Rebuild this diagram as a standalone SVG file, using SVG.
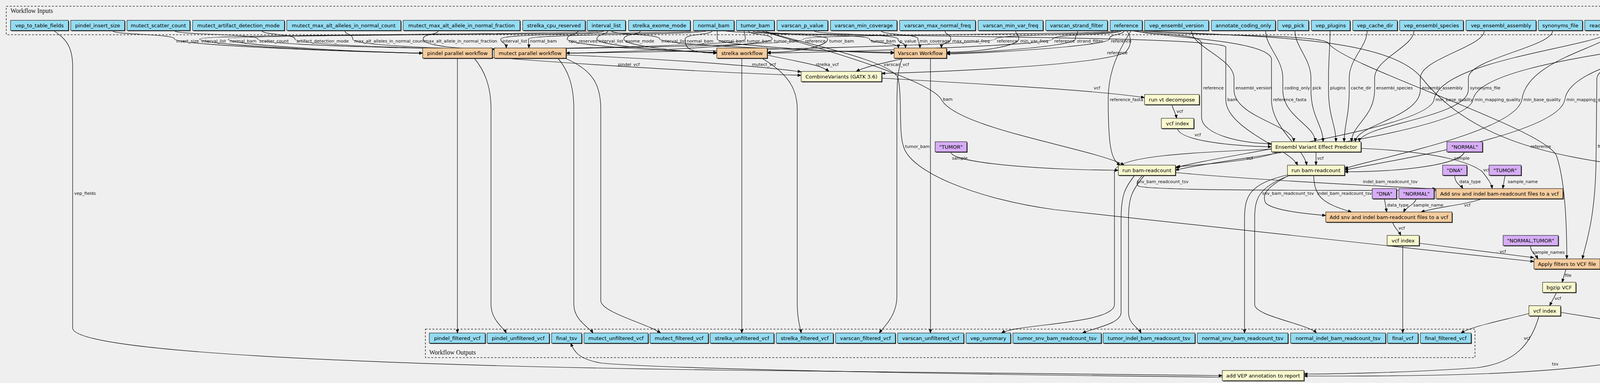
<svg xmlns="http://www.w3.org/2000/svg" width="5711" height="981" viewBox="0 0 5711 981">
<style>
.bg{fill:#efefef}
.cl{fill:none;stroke:#333;stroke-width:1.6;stroke-dasharray:5,4}
.ct{font-family:"Liberation Serif",serif;font-size:16px;fill:#111}
.sh{fill:#3a3a3a}
.n{stroke:#000;stroke-width:1}
.io{fill:#94dcf2}
.op{fill:#f5cc9e}
.tl{fill:#fafad0}
.cs{fill:#d6adf6}
.nt{font-family:"DejaVu Sans",sans-serif;font-size:13px;fill:#000;text-anchor:middle}
.e{fill:none;stroke:#000;stroke-width:1.2}
.el{font-family:"DejaVu Sans",sans-serif;font-size:11px;fill:#111}
</style>
<defs>
<marker id="ah" markerWidth="10" markerHeight="8" refX="9" refY="4" orient="auto" markerUnits="userSpaceOnUse"><path d="M0,0 L10,4 L0,8 z" fill="#000"/></marker>
</defs>
<rect class="bg" x="0" y="0" width="5711" height="981"/>
<g id="clusters">
<rect class="cl" x="16" y="16" width="5687" height="73"/>
<text class="ct" x="27" y="33">Workflow Inputs</text>
<rect class="cl" x="1089" y="843" width="2687" height="73"/>
<text class="ct" x="1099" y="908">Workflow Outputs</text>
</g>
<g id="connectors">
<path class="e" marker-end="url(#ah)" d="M287,78 C287,90 447,86 447,100 C447,118 1002,136 1082,136"/>
<path class="e" marker-end="url(#ah)" d="M1540,78 C1540,90 511,86 511,100 C511,118 1002,136 1082,136"/>
<path class="e" marker-end="url(#ah)" d="M1800,78 C1800,90 584,86 584,100 C584,118 1002,136 1082,136"/>
<path class="e" marker-end="url(#ah)" d="M1905,78 C1905,90 1908,86 1908,100 C1908,118 1340,126 1260,126"/>
<path class="e" marker-end="url(#ah)" d="M2860,78 C2860,90 2057,86 2057,100 C2057,118 1340,126 1260,126"/>
<path class="e" marker-end="url(#ah)" d="M445,78 C445,90 660,86 660,100 C660,118 1185,126 1265,126"/>
<path class="e" marker-end="url(#ah)" d="M670,78 C670,90 755,86 755,100 C755,118 1185,126 1265,126"/>
<path class="e" marker-end="url(#ah)" d="M883,78 C883,90 903,86 903,100 C903,118 1185,126 1265,126"/>
<path class="e" marker-end="url(#ah)" d="M1122,78 C1122,90 1083,86 1083,100 C1083,118 1185,126 1265,126"/>
<path class="e" marker-end="url(#ah)" d="M1548,78 C1548,90 1282,86 1282,100 C1282,112 1296,107 1296,123"/>
<path class="e" marker-end="url(#ah)" d="M1812,78 C1812,90 1353,86 1353,100 C1353,112 1354,107 1354,123"/>
<path class="e" marker-end="url(#ah)" d="M1915,78 C1915,90 1977,86 1977,100 C1977,118 1529,136 1449,136"/>
<path class="e" marker-end="url(#ah)" d="M2866,78 C2866,90 2548,86 2548,100 C2548,118 1529,136 1449,136"/>
<path class="e" marker-end="url(#ah)" d="M1480,78 C1480,90 1452,86 1452,100 C1452,118 1755,134 1835,134"/>
<path class="e" marker-end="url(#ah)" d="M1556,78 C1556,90 1528,86 1528,100 C1528,118 1755,134 1835,134"/>
<path class="e" marker-end="url(#ah)" d="M1640,78 C1640,90 1597,86 1597,100 C1597,118 1755,134 1835,134"/>
<path class="e" marker-end="url(#ah)" d="M1824,78 C1824,90 1754,86 1754,100 C1754,118 1755,136 1835,136"/>
<path class="e" marker-end="url(#ah)" d="M1925,78 C1925,90 2119,86 2119,100 C2119,118 2044,134 1964,134"/>
<path class="e" marker-end="url(#ah)" d="M2872,78 C2872,90 2695,86 2695,100 C2695,118 2044,136 1964,136"/>
<path class="e" marker-end="url(#ah)" d="M1564,78 C1564,90 1689,86 1689,100 C1689,118 2209,134 2289,134"/>
<path class="e" marker-end="url(#ah)" d="M1836,78 C1836,90 1836,86 1836,100 C1836,118 2209,136 2289,136"/>
<path class="e" marker-end="url(#ah)" d="M1935,78 C1935,90 2226,86 2226,100 C2226,112 2300,107 2300,123"/>
<path class="e" marker-end="url(#ah)" d="M2082,78 C2082,90 2299,86 2299,100 C2299,112 2318,107 2318,123"/>
<path class="e" marker-end="url(#ah)" d="M2255,78 C2255,90 2350,86 2350,100 C2350,112 2355,107 2355,123"/>
<path class="e" marker-end="url(#ah)" d="M2419,78 C2419,90 2434,86 2434,100 C2434,112 2410,107 2410,123"/>
<path class="e" marker-end="url(#ah)" d="M2600,78 C2600,90 2608,86 2608,100 C2608,118 2503,134 2423,134"/>
<path class="e" marker-end="url(#ah)" d="M2759,78 C2759,90 2753,86 2753,100 C2753,118 2503,136 2423,136"/>
<path class="e" marker-end="url(#ah)" d="M2878,78 C2878,90 2840,86 2840,100 C2840,118 2503,138 2423,138"/>
<path class="e" marker-end="url(#ah)" d="M2884,78 C2900,100 2895,120 2880,135 C2800,170 2350,186 2257,188"/>
<path class="e" marker-end="url(#ah)" d="M1260,147 C1500,165 1800,185 2051,193"/>
<path class="e" marker-end="url(#ah)" d="M1449,141 C1700,150 1950,170 2051,184"/>
<path class="e" marker-end="url(#ah)" d="M1964,141 C2050,160 2100,165 2122,183"/>
<path class="e" marker-end="url(#ah)" d="M2316,149 C2270,160 2215,170 2192,183"/>
<path class="e" marker-end="url(#ah)" d="M1171,149 L1171,853"/>
<path class="e" marker-end="url(#ah)" d="M1214,149 C1240,180 1257,220 1257,280 L1257,780 C1257,820 1290,840 1296,853"/>
<path class="e" marker-end="url(#ah)" d="M1428,149 C1455,180 1469,220 1469,280 L1469,780 C1469,820 1510,840 1518,853"/>
<path class="e" marker-end="url(#ah)" d="M1446,149 C1520,180 1538,220 1538,280 L1538,770 C1538,800 1660,830 1691,853"/>
<path class="e" marker-end="url(#ah)" d="M1899,149 L1899,853"/>
<path class="e" marker-end="url(#ah)" d="M1950,149 C2020,190 2041,230 2041,280 L2041,780 C2041,820 2049,840 2051,853"/>
<path class="e" marker-end="url(#ah)" d="M2310,149 C2296,180 2296,220 2296,300 L2296,760 C2296,810 2260,840 2251,853"/>
<path class="e" marker-end="url(#ah)" d="M2382,149 L2382,853"/>
<path class="e" marker-end="url(#ah)" d="M2257,200 C2500,215 2800,230 2930,250"/>
<path class="e" marker-end="url(#ah)" d="M3000,268 C3003,280 3010,290 3012,303"/>
<path class="e" marker-end="url(#ah)" d="M3014,329 C3020,360 3150,374 3255,376"/>
<path class="e" marker-end="url(#ah)" d="M2890,78 C2960,90 3070,85 3076,110 L3076,300 C3076,345 3180,368 3255,368"/>
<path class="e" marker-end="url(#ah)" d="M3050,78 C3050,120 3159,150 3159,200 L3159,230 C3159,300 3312,320 3312,363"/>
<path class="e" marker-end="url(#ah)" d="M3240,78 C3240,120 3284,150 3284,200 L3284,230 C3284,300 3367,320 3367,363"/>
<path class="e" marker-end="url(#ah)" d="M3315,78 C3315,120 3356,150 3356,200 L3356,230 C3356,300 3387,320 3387,363"/>
<path class="e" marker-end="url(#ah)" d="M3405,78 C3405,120 3401,150 3401,200 L3401,230 C3401,300 3420,320 3420,363"/>
<path class="e" marker-end="url(#ah)" d="M3500,78 C3500,120 3454,150 3454,200 L3454,230 C3454,300 3441,320 3441,363"/>
<path class="e" marker-end="url(#ah)" d="M3620,78 C3620,120 3519,150 3519,200 L3519,230 C3519,300 3460,320 3460,363"/>
<path class="e" marker-end="url(#ah)" d="M3800,78 C3800,120 3636,150 3636,200 L3636,230 C3636,300 3470,320 3470,363"/>
<path class="e" marker-end="url(#ah)" d="M3975,78 C3975,120 3759,150 3759,200 L3759,230 C3759,300 3480,320 3480,363"/>
<path class="e" marker-end="url(#ah)" d="M3274,389 C3220,410 3100,420 3012,427"/>
<path class="e" marker-end="url(#ah)" d="M3369,389 L3369,423"/>
<path class="e" marker-end="url(#ah)" d="M3484,380 C3700,390 3770,420 3795,440 C3810,460 3818,470 3820,483"/>
<path class="e" marker-end="url(#ah)" d="M3255,382 C3050,390 2853,400 2853,440 L2853,780 C2853,830 2600,830 2564,853"/>
<path class="e" marker-end="url(#ah)" d="M2434,389 C2434,420 2700,436 2863,436"/>
<path class="e" marker-end="url(#ah)" d="M1945,78 C2050,110 2380,200 2410,255 C2450,330 2800,380 2878,423"/>
<path class="e" marker-end="url(#ah)" d="M2896,78 C2850,150 2837,200 2837,255 C2837,380 2845,410 2868,423"/>
<path class="e" marker-end="url(#ah)" d="M4130,78 C4100,120 3690,150 3671,255 C3660,330 3100,400 3009,430"/>
<path class="e" marker-end="url(#ah)" d="M4386,78 C4350,120 3790,150 3771,255 C3760,340 3100,410 3009,436"/>
<path class="e" marker-end="url(#ah)" d="M1848,78 C1900,95 3100,88 3138,120 L3138,255 C3138,330 3300,380 3322,423"/>
<path class="e" marker-end="url(#ah)" d="M2902,78 C2950,95 3240,100 3255,150 L3255,255 C3255,330 3340,380 3345,423"/>
<path class="e" marker-end="url(#ah)" d="M4140,78 C4120,120 3910,150 3896,255 C3880,340 3500,410 3442,432"/>
<path class="e" marker-end="url(#ah)" d="M4396,78 C4380,120 4020,150 4006,255 C3990,350 3500,420 3442,436"/>
<path class="e" marker-end="url(#ah)" d="M3749,389 C3740,420 3600,440 3442,440"/>
<path class="e" marker-end="url(#ah)" d="M2925,449 C2915,460 2905,470 2915,477 C2960,490 3500,487 3676,488"/>
<path class="e" marker-end="url(#ah)" d="M3009,442 C3200,460 3500,475 3676,484"/>
<path class="e" marker-end="url(#ah)" d="M2905,449 C2880,480 2870,500 2870,560 L2870,800 C2870,830 2800,840 2771,853"/>
<path class="e" marker-end="url(#ah)" d="M2930,449 C2895,490 2889,510 2889,560 L2889,800 C2889,830 2915,840 2921,853"/>
<path class="e" marker-end="url(#ah)" d="M3724,449 C3724,470 3740,475 3745,483"/>
<path class="e" marker-end="url(#ah)" d="M3853,449 L3847,483"/>
<path class="e" marker-end="url(#ah)" d="M3300,449 C3240,480 3230,500 3240,520 C3260,540 3350,548 3394,552"/>
<path class="e" marker-end="url(#ah)" d="M3363,449 C3365,500 3380,520 3460,543"/>
<path class="e" marker-end="url(#ah)" d="M3300,447 C3200,470 3186,500 3186,560 L3186,853"/>
<path class="e" marker-end="url(#ah)" d="M3300,450 C3220,480 3212,510 3212,560 L3212,780 C3212,810 3350,830 3370,853"/>
<path class="e" marker-end="url(#ah)" d="M3544,509 L3550,543"/>
<path class="e" marker-end="url(#ah)" d="M3626,509 C3620,525 3600,530 3593,543"/>
<path class="e" marker-end="url(#ah)" d="M3795,509 C3750,525 3680,530 3638,543"/>
<path class="e" marker-end="url(#ah)" d="M3565,569 C3570,585 3580,590 3586,603"/>
<path class="e" marker-end="url(#ah)" d="M3591,629 L3591,853"/>
<path class="e" marker-end="url(#ah)" d="M3633,623 L3927,660"/>
<path class="e" marker-end="url(#ah)" d="M1955,78 C2000,100 2280,150 2299,200 C2310,250 2300,340 2313,375 C2330,440 2500,510 2700,537 L3927,670"/>
<path class="e" marker-end="url(#ah)" d="M3918,629 C3918,645 3930,650 3937,663"/>
<path class="e" marker-end="url(#ah)" d="M2908,78 C3000,92 3380,86 3400,110 C3440,170 3960,330 3985,400 C4005,460 4011,560 4011,663"/>
<path class="e" marker-end="url(#ah)" d="M4639,78 C4600,100 4100,120 4088,200 L4086,400 C4085,560 4060,620 4051,663"/>
<path class="e" marker-end="url(#ah)" d="M4825,78 C4800,100 4230,100 4223,140 L4223,600 C4223,640 4150,650 4096,668"/>
<path class="e" marker-end="url(#ah)" d="M5006,78 C4980,100 4700,100 4450,103 C4390,105 4378,115 4378,140 L4378,600 C4378,640 4250,655 4096,673"/>
<path class="e" marker-end="url(#ah)" d="M5131,78 C5100,100 4500,95 4476,130 L4476,350 C4476,400 4400,500 4397,560 L4397,620 C4397,650 4200,665 4096,678"/>
<path class="e" marker-end="url(#ah)" d="M4009,689 L3999,723"/>
<path class="e" marker-end="url(#ah)" d="M3985,749 L3967,783"/>
<path class="e" marker-end="url(#ah)" d="M3914,803 C3850,820 3770,835 3740,853"/>
<path class="e" marker-end="url(#ah)" d="M3995,800 L4325,853"/>
<path class="e" marker-end="url(#ah)" d="M2914,78 C3200,95 3550,90 3640,200 C3760,350 3950,400 4200,428 L4320,430 C4380,430 4407,450 4407,480 L4407,853"/>
<path class="e" marker-end="url(#ah)" d="M5319,78 C5300,95 5000,85 4989,130 L4989,740 C4989,830 4600,860 4501,866"/>
<path class="e" marker-end="url(#ah)" d="M5553,78 L5342,133 L5342,740 C5342,830 4650,860 4501,867"/>
<path class="e" marker-end="url(#ah)" d="M3940,809 C3920,880 3880,930 3780,942 C3600,955 3400,958 3338,958"/>
<path class="e" marker-end="url(#ah)" d="M4335,879 C4150,960 3700,965 3338,963"/>
<path class="e" marker-end="url(#ah)" d="M137,78 C160,95 186,110 186,170 L186,840 C186,900 900,935 1850,948 C2500,956 3000,961 3129,962"/>
<path class="e" marker-end="url(#ah)" d="M3129,966 C2500,960 1700,945 1540,930 C1480,920 1470,900 1461,879"/>
<text class="el" x="451" y="109">insert_size</text>
<text class="el" x="515" y="109">interval_list</text>
<text class="el" x="588" y="109">normal_bam</text>
<text class="el" x="664" y="109">scatter_count</text>
<text class="el" x="759" y="109">artifact_detection_mode</text>
<text class="el" x="907" y="109">max_alt_alleles_in_normal_count</text>
<text class="el" x="1087" y="109">max_alt_allele_in_normal_fraction</text>
<text class="el" x="1286" y="109">interval_list</text>
<text class="el" x="1357" y="109">normal_bam</text>
<text class="el" x="1456" y="109">cpu_reserved</text>
<text class="el" x="1532" y="109">interval_list</text>
<text class="el" x="1601" y="109">exome_mode</text>
<text class="el" x="1693" y="109">interval_list</text>
<text class="el" x="1758" y="109">normal_bam</text>
<text class="el" x="1840" y="109">normal_bam</text>
<text class="el" x="1912" y="109">tumor_bam</text>
<text class="el" x="1981" y="109">tumor_bam</text>
<text class="el" x="2061" y="109">reference</text>
<text class="el" x="2123" y="109">tumor_bam</text>
<text class="el" x="2230" y="109">tumor_bam</text>
<text class="el" x="2303" y="109">p_value</text>
<text class="el" x="2354" y="109">min_coverage</text>
<text class="el" x="2438" y="109">max_normal_freq</text>
<text class="el" x="2552" y="109">reference</text>
<text class="el" x="2612" y="109">min_var_freq</text>
<text class="el" x="2699" y="109">reference</text>
<text class="el" x="2757" y="109">strand_filter</text>
<text class="el" x="2844" y="109">reference</text>
<text class="el" x="2834" y="139">reference</text>
<text class="el" x="1582" y="169">pindel_vcf</text>
<text class="el" x="1925" y="169">mutect_vcf</text>
<text class="el" x="2088" y="169">strelka_vcf</text>
<text class="el" x="2262" y="169">varscan_vcf</text>
<text class="el" x="2800" y="229">vcf</text>
<text class="el" x="3080" y="229">reference</text>
<text class="el" x="3163" y="229">ensembl_version</text>
<text class="el" x="3288" y="229">coding_only</text>
<text class="el" x="3360" y="229">pick</text>
<text class="el" x="3405" y="229">plugins</text>
<text class="el" x="3458" y="229">cache_dir</text>
<text class="el" x="3523" y="229">ensembl_species</text>
<text class="el" x="3640" y="229">ensembl_assembly</text>
<text class="el" x="3763" y="229">synonyms_file</text>
<text class="el" x="2414" y="258">bam</text>
<text class="el" x="2841" y="259">reference_fasta</text>
<text class="el" x="3142" y="259">bam</text>
<text class="el" x="3259" y="259">reference_fasta</text>
<text class="el" x="3675" y="259">min_base_quality</text>
<text class="el" x="3775" y="259">min_mapping_quality</text>
<text class="el" x="3900" y="259">min_base_quality</text>
<text class="el" x="4010" y="259">min_mapping_quality</text>
<text class="el" x="3012" y="289">vcf</text>
<text class="el" x="3058" y="349">vcf</text>
<text class="el" x="2317" y="379">tumor_bam</text>
<text class="el" x="3918" y="379">reference</text>
<text class="el" x="4090" y="379">filter_mapq0_threshold</text>
<text class="el" x="4227" y="379">filter_somatic_llr_threshold</text>
<text class="el" x="4382" y="379">do_cle_vcf_filter</text>
<text class="el" x="4480" y="379">filter_minimum_depth</text>
<text class="el" x="2437" y="409">sample</text>
<text class="el" x="3191" y="409">vcf</text>
<text class="el" x="3372" y="409">vcf</text>
<text class="el" x="3722" y="409">sample</text>
<text class="el" x="3797" y="439">vcf</text>
<text class="el" x="2910" y="469">snv_bam_readcount_tsv</text>
<text class="el" x="3489" y="469">indel_bam_readcount_tsv</text>
<text class="el" x="3736" y="469">data_type</text>
<text class="el" x="3860" y="469">sample_name</text>
<text class="el" x="4411" y="469">reference</text>
<text class="el" x="4992" y="469">genotype_fields</text>
<text class="el" x="5345" y="469">fields</text>
<text class="el" x="190" y="499">vep_fields</text>
<text class="el" x="3231" y="499">snv_bam_readcount_tsv</text>
<text class="el" x="3372" y="499">indel_bam_readcount_tsv</text>
<text class="el" x="3551" y="529">data_type</text>
<text class="el" x="3618" y="529">sample_name</text>
<text class="el" x="3748" y="529">vcf</text>
<text class="el" x="3580" y="588">vcf</text>
<text class="el" x="3839" y="648">vcf</text>
<text class="el" x="3923" y="650">sample_names</text>
<text class="el" x="4006" y="709">file</text>
<text class="el" x="3980" y="768">vcf</text>
<text class="el" x="4183" y="829">vcf</text>
<text class="el" x="3901" y="870">vcf</text>
<text class="el" x="3973" y="936">tsv</text>
</g>
<g id="in_vep_to_table_fields"><rect class="sh" x="29" y="54" width="148" height="26"/><rect class="n io" x="27" y="52" width="148" height="26"/><text class="nt" x="101" y="70">vep_to_table_fields</text></g>
<g id="in_pindel_insert_size"><rect class="sh" x="183" y="54" width="138" height="26"/><rect class="n io" x="181" y="52" width="138" height="26"/><text class="nt" x="250" y="70">pindel_insert_size</text></g>
<g id="in_mutect_scatter_count"><rect class="sh" x="327" y="54" width="161" height="26"/><rect class="n io" x="325" y="52" width="161" height="26"/><text class="nt" x="405.5" y="70">mutect_scatter_count</text></g>
<g id="in_mutect_artifact_detection_mode"><rect class="sh" x="495" y="54" width="235" height="26"/><rect class="n io" x="493" y="52" width="235" height="26"/><text class="nt" x="610.5" y="70">mutect_artifact_detection_mode</text></g>
<g id="in_mutect_max_alt_alleles_in_normal_count"><rect class="sh" x="736" y="54" width="292" height="26"/><rect class="n io" x="734" y="52" width="292" height="26"/><text class="nt" x="880" y="70">mutect_max_alt_alleles_in_normal_count</text></g>
<g id="in_mutect_max_alt_allele_in_normal_fraction"><rect class="sh" x="1034" y="54" width="299" height="26"/><rect class="n io" x="1032" y="52" width="299" height="26"/><text class="nt" x="1181.5" y="70">mutect_max_alt_allele_in_normal_fraction</text></g>
<g id="in_strelka_cpu_reserved"><rect class="sh" x="1340" y="54" width="160" height="26"/><rect class="n io" x="1338" y="52" width="160" height="26"/><text class="nt" x="1418" y="70">strelka_cpu_reserved</text></g>
<g id="in_interval_list"><rect class="sh" x="1505" y="54" width="98" height="26"/><rect class="n io" x="1503" y="52" width="98" height="26"/><text class="nt" x="1552" y="70">interval_list</text></g>
<g id="in_strelka_exome_mode"><rect class="sh" x="1611" y="54" width="158" height="26"/><rect class="n io" x="1609" y="52" width="158" height="26"/><text class="nt" x="1688" y="70">strelka_exome_mode</text></g>
<g id="in_normal_bam"><rect class="sh" x="1777" y="54" width="104" height="26"/><rect class="n io" x="1775" y="52" width="104" height="26"/><text class="nt" x="1827" y="70">normal_bam</text></g>
<g id="in_tumor_bam"><rect class="sh" x="1887" y="54" width="97" height="26"/><rect class="n io" x="1885" y="52" width="97" height="26"/><text class="nt" x="1933.5" y="70">tumor_bam</text></g>
<g id="in_varscan_p_value"><rect class="sh" x="1991" y="54" width="130" height="26"/><rect class="n io" x="1989" y="52" width="130" height="26"/><text class="nt" x="2054" y="70">varscan_p_value</text></g>
<g id="in_varscan_min_coverage"><rect class="sh" x="2128" y="54" width="170" height="26"/><rect class="n io" x="2126" y="52" width="170" height="26"/><text class="nt" x="2211" y="70">varscan_min_coverage</text></g>
<g id="in_varscan_max_normal_freq"><rect class="sh" x="2305" y="54" width="194" height="26"/><rect class="n io" x="2303" y="52" width="194" height="26"/><text class="nt" x="2400" y="70">varscan_max_normal_freq</text></g>
<g id="in_varscan_min_var_freq"><rect class="sh" x="2506" y="54" width="166" height="26"/><rect class="n io" x="2504" y="52" width="166" height="26"/><text class="nt" x="2587" y="70">varscan_min_var_freq</text></g>
<g id="in_varscan_strand_filter"><rect class="sh" x="2679" y="54" width="158" height="26"/><rect class="n io" x="2677" y="52" width="158" height="26"/><text class="nt" x="2756" y="70">varscan_strand_filter</text></g>
<g id="in_reference"><rect class="sh" x="2844" y="54" width="82" height="26"/><rect class="n io" x="2842" y="52" width="82" height="26"/><text class="nt" x="2883" y="70">reference</text></g>
<g id="in_vep_ensembl_version"><rect class="sh" x="2932" y="54" width="164" height="26"/><rect class="n io" x="2930" y="52" width="164" height="26"/><text class="nt" x="3012" y="70">vep_ensembl_version</text></g>
<g id="in_annotate_coding_only"><rect class="sh" x="3103" y="54" width="164" height="26"/><rect class="n io" x="3101" y="52" width="164" height="26"/><text class="nt" x="3183" y="70">annotate_coding_only</text></g>
<g id="in_vep_pick"><rect class="sh" x="3273" y="54" width="79" height="26"/><rect class="n io" x="3271" y="52" width="79" height="26"/><text class="nt" x="3310.5" y="70">vep_pick</text></g>
<g id="in_vep_plugins"><rect class="sh" x="3359" y="54" width="99" height="26"/><rect class="n io" x="3357" y="52" width="99" height="26"/><text class="nt" x="3406.5" y="70">vep_plugins</text></g>
<g id="in_vep_cache_dir"><rect class="sh" x="3465" y="54" width="114" height="26"/><rect class="n io" x="3463" y="52" width="114" height="26"/><text class="nt" x="3520" y="70">vep_cache_dir</text></g>
<g id="in_vep_ensembl_species"><rect class="sh" x="3585" y="54" width="163" height="26"/><rect class="n io" x="3583" y="52" width="163" height="26"/><text class="nt" x="3664.5" y="70">vep_ensembl_species</text></g>
<g id="in_vep_ensembl_assembly"><rect class="sh" x="3755" y="54" width="179" height="26"/><rect class="n io" x="3753" y="52" width="179" height="26"/><text class="nt" x="3842.5" y="70">vep_ensembl_assembly</text></g>
<g id="in_synonyms_file"><rect class="sh" x="3940" y="54" width="113" height="26"/><rect class="n io" x="3938" y="52" width="113" height="26"/><text class="nt" x="3994.5" y="70">synonyms_file</text></g>
<g id="in_readcount_minimum_base_quality"><rect class="sh" x="4059" y="54" width="247" height="26"/><rect class="n io" x="4057" y="52" width="247" height="26"/><text class="nt" x="4180.5" y="70">readcount_minimum_base_quality</text></g>
<g id="in_readcount_minimum_mapping_quality"><rect class="sh" x="4312" y="54" width="276" height="26"/><rect class="n io" x="4310" y="52" width="276" height="26"/><text class="nt" x="4448" y="70">readcount_minimum_mapping_quality</text></g>
<g id="in_filter_mapq0_threshold"><rect class="sh" x="4594" y="54" width="172" height="26"/><rect class="n io" x="4592" y="52" width="172" height="26"/><text class="nt" x="4678" y="70">filter_mapq0_threshold</text></g>
<g id="in_filter_somatic_llr_threshold"><rect class="sh" x="4772" y="54" width="200" height="26"/><rect class="n io" x="4770" y="52" width="200" height="26"/><text class="nt" x="4870" y="70">filter_somatic_llr_threshold</text></g>
<g id="in_cle_vcf_filter"><rect class="sh" x="4978" y="54" width="104" height="26"/><rect class="n io" x="4976" y="52" width="104" height="26"/><text class="nt" x="5028" y="70">cle_vcf_filter</text></g>
<g id="in_filter_minimum_depth"><rect class="sh" x="5089" y="54" width="167" height="26"/><rect class="n io" x="5087" y="52" width="167" height="26"/><text class="nt" x="5170.5" y="70">filter_minimum_depth</text></g>
<g id="in_variants_to_table_genotype_fields"><rect class="sh" x="5263" y="54" width="246" height="26"/><rect class="n io" x="5261" y="52" width="246" height="26"/><text class="nt" x="5384" y="70">variants_to_table_genotype_fields</text></g>
<g id="in_variants_to_table_fields"><rect class="sh" x="5515" y="54" width="179" height="26"/><rect class="n io" x="5513" y="52" width="179" height="26"/><text class="nt" x="5602.5" y="70">variants_to_table_fields</text></g>
<g id="pindel_parallel_workflow"><rect class="sh" x="1084" y="125" width="178" height="26"/><rect class="n op" x="1082" y="123" width="178" height="26"/><text class="nt" x="1171" y="141">pindel parallel workflow</text></g>
<g id="mutect_parallel_workflow"><rect class="sh" x="1267" y="125" width="184" height="26"/><rect class="n op" x="1265" y="123" width="184" height="26"/><text class="nt" x="1357" y="141">mutect parallel workflow</text></g>
<g id="strelka_workflow"><rect class="sh" x="1837" y="125" width="129" height="26"/><rect class="n op" x="1835" y="123" width="129" height="26"/><text class="nt" x="1899.5" y="141">strelka workflow</text></g>
<g id="varscan_workflow"><rect class="sh" x="2291" y="125" width="134" height="26"/><rect class="n op" x="2289" y="123" width="134" height="26"/><text class="nt" x="2356" y="141">Varscan Workflow</text></g>
<g id="combine_variants"><rect class="sh" x="2053" y="185" width="206" height="26"/><rect class="n tl" x="2051" y="183" width="206" height="26"/><text class="nt" x="2154" y="201">CombineVariants (GATK 3.6)</text></g>
<g id="run_vt_decompose"><rect class="sh" x="2932" y="244" width="140" height="26"/><rect class="n tl" x="2930" y="242" width="140" height="26"/><text class="nt" x="3000" y="260">run vt decompose</text></g>
<g id="vcf_index_1"><rect class="sh" x="2975" y="305" width="83" height="26"/><rect class="n tl" x="2973" y="303" width="83" height="26"/><text class="nt" x="3014.5" y="321">vcf index</text></g>
<g id="vep"><rect class="sh" x="3257" y="365" width="229" height="26"/><rect class="n tl" x="3255" y="363" width="229" height="26"/><text class="nt" x="3369.5" y="381">Ensembl Variant Effect Predictor</text></g>
<g id="const_tumor_1"><rect class="sh" x="2396" y="365" width="81" height="26"/><rect class="n cs" x="2394" y="363" width="81" height="26"/><text class="nt" x="2434.5" y="381">"TUMOR"</text></g>
<g id="const_normal_1"><rect class="sh" x="3706" y="365" width="91" height="26"/><rect class="n cs" x="3704" y="363" width="91" height="26"/><text class="nt" x="3749.5" y="381">"NORMAL"</text></g>
<g id="bam_readcount_tumor"><rect class="sh" x="2865" y="425" width="146" height="26"/><rect class="n tl" x="2863" y="423" width="146" height="26"/><text class="nt" x="2936" y="441">run bam-readcount</text></g>
<g id="bam_readcount_normal"><rect class="sh" x="3298" y="425" width="146" height="26"/><rect class="n tl" x="3296" y="423" width="146" height="26"/><text class="nt" x="3369" y="441">run bam-readcount</text></g>
<g id="const_dna_1"><rect class="sh" x="3695" y="425" width="62" height="26"/><rect class="n cs" x="3693" y="423" width="62" height="26"/><text class="nt" x="3724" y="441">"DNA"</text></g>
<g id="const_tumor_2"><rect class="sh" x="3814" y="425" width="82" height="26"/><rect class="n cs" x="3812" y="423" width="82" height="26"/><text class="nt" x="3853" y="441">"TUMOR"</text></g>
<g id="add_readcounts_tumor"><rect class="sh" x="3678" y="485" width="325" height="26"/><rect class="n op" x="3676" y="483" width="325" height="26"/><text class="nt" x="3838.5" y="501">Add snv and indel bam-readcount files to a vcf</text></g>
<g id="const_dna_2"><rect class="sh" x="3515" y="485" width="62" height="26"/><rect class="n cs" x="3513" y="483" width="62" height="26"/><text class="nt" x="3544" y="501">"DNA"</text></g>
<g id="const_normal_2"><rect class="sh" x="3583" y="485" width="90" height="26"/><rect class="n cs" x="3581" y="483" width="90" height="26"/><text class="nt" x="3626" y="501">"NORMAL"</text></g>
<g id="add_readcounts_normal"><rect class="sh" x="3396" y="545" width="323" height="26"/><rect class="n op" x="3394" y="543" width="323" height="26"/><text class="nt" x="3555.5" y="561">Add snv and indel bam-readcount files to a vcf</text></g>
<g id="vcf_index_2"><rect class="sh" x="3553" y="605" width="82" height="26"/><rect class="n tl" x="3551" y="603" width="82" height="26"/><text class="nt" x="3592" y="621">vcf index</text></g>
<g id="const_normal_tumor"><rect class="sh" x="3850" y="605" width="141" height="26"/><rect class="n cs" x="3848" y="603" width="141" height="26"/><text class="nt" x="3918.5" y="621">"NORMAL,TUMOR"</text></g>
<g id="apply_filters"><rect class="sh" x="3929" y="665" width="169" height="26"/><rect class="n op" x="3927" y="663" width="169" height="26"/><text class="nt" x="4011.5" y="681">Apply filters to VCF file</text></g>
<g id="bgzip_vcf"><rect class="sh" x="3951" y="725" width="85" height="26"/><rect class="n tl" x="3949" y="723" width="85" height="26"/><text class="nt" x="3991.5" y="741">bgzip VCF</text></g>
<g id="vcf_index_3"><rect class="sh" x="3916" y="785" width="81" height="26"/><rect class="n tl" x="3914" y="783" width="81" height="26"/><text class="nt" x="3954.5" y="801">vcf index</text></g>
<g id="select_variants"><rect class="sh" x="4316" y="855" width="187" height="26"/><rect class="n tl" x="4314" y="853" width="187" height="26"/><text class="nt" x="4407.5" y="871">SelectVariants (GATK 3.6)</text></g>
<g id="add_vep_to_report"><rect class="sh" x="3131" y="951" width="209" height="26"/><rect class="n tl" x="3129" y="949" width="209" height="26"/><text class="nt" x="3233.5" y="967">add VEP annotation to report</text></g>
<g id="out_pindel_filtered_vcf"><rect class="sh" x="1101" y="855" width="143" height="26"/><rect class="n io" x="1099" y="853" width="143" height="26"/><text class="nt" x="1170.5" y="871">pindel_filtered_vcf</text></g>
<g id="out_pindel_unfiltered_vcf"><rect class="sh" x="1249" y="855" width="159" height="26"/><rect class="n io" x="1247" y="853" width="159" height="26"/><text class="nt" x="1326.5" y="871">pindel_unfiltered_vcf</text></g>
<g id="out_final_tsv"><rect class="sh" x="1414" y="855" width="77" height="26"/><rect class="n io" x="1412" y="853" width="77" height="26"/><text class="nt" x="1450.5" y="871">final_tsv</text></g>
<g id="out_mutect_unfiltered_vcf"><rect class="sh" x="1497" y="855" width="164" height="26"/><rect class="n io" x="1495" y="853" width="164" height="26"/><text class="nt" x="1577" y="871">mutect_unfiltered_vcf</text></g>
<g id="out_mutect_filtered_vcf"><rect class="sh" x="1666" y="855" width="149" height="26"/><rect class="n io" x="1664" y="853" width="149" height="26"/><text class="nt" x="1738.5" y="871">mutect_filtered_vcf</text></g>
<g id="out_strelka_unfiltered_vcf"><rect class="sh" x="1820" y="855" width="163" height="26"/><rect class="n io" x="1818" y="853" width="163" height="26"/><text class="nt" x="1899.5" y="871">strelka_unfiltered_vcf</text></g>
<g id="out_strelka_filtered_vcf"><rect class="sh" x="1989" y="855" width="146" height="26"/><rect class="n io" x="1987" y="853" width="146" height="26"/><text class="nt" x="2060" y="871">strelka_filtered_vcf</text></g>
<g id="out_varscan_filtered_vcf"><rect class="sh" x="2141" y="855" width="153" height="26"/><rect class="n io" x="2139" y="853" width="153" height="26"/><text class="nt" x="2215.5" y="871">varscan_filtered_vcf</text></g>
<g id="out_varscan_unfiltered_vcf"><rect class="sh" x="2300" y="855" width="169" height="26"/><rect class="n io" x="2298" y="853" width="169" height="26"/><text class="nt" x="2382.5" y="871">varscan_unfiltered_vcf</text></g>
<g id="out_vep_summary"><rect class="sh" x="2475" y="855" width="114" height="26"/><rect class="n io" x="2473" y="853" width="114" height="26"/><text class="nt" x="2530" y="871">vep_summary</text></g>
<g id="out_tumor_snv_bam_readcount_tsv"><rect class="sh" x="2595" y="855" width="226" height="26"/><rect class="n io" x="2593" y="853" width="226" height="26"/><text class="nt" x="2706" y="871">tumor_snv_bam_readcount_tsv</text></g>
<g id="out_tumor_indel_bam_readcount_tsv"><rect class="sh" x="2826" y="855" width="235" height="26"/><rect class="n io" x="2824" y="853" width="235" height="26"/><text class="nt" x="2941.5" y="871">tumor_indel_bam_readcount_tsv</text></g>
<g id="out_normal_snv_bam_readcount_tsv"><rect class="sh" x="3067" y="855" width="232" height="26"/><rect class="n io" x="3065" y="853" width="232" height="26"/><text class="nt" x="3181" y="871">normal_snv_bam_readcount_tsv</text></g>
<g id="out_normal_indel_bam_readcount_tsv"><rect class="sh" x="3306" y="855" width="243" height="26"/><rect class="n io" x="3304" y="853" width="243" height="26"/><text class="nt" x="3425.5" y="871">normal_indel_bam_readcount_tsv</text></g>
<g id="out_final_vcf"><rect class="sh" x="3554" y="855" width="78" height="26"/><rect class="n io" x="3552" y="853" width="78" height="26"/><text class="nt" x="3591" y="871">final_vcf</text></g>
<g id="out_final_filtered_vcf"><rect class="sh" x="3638" y="855" width="130" height="26"/><rect class="n io" x="3636" y="853" width="130" height="26"/><text class="nt" x="3701" y="871">final_filtered_vcf</text></g>
</svg>
